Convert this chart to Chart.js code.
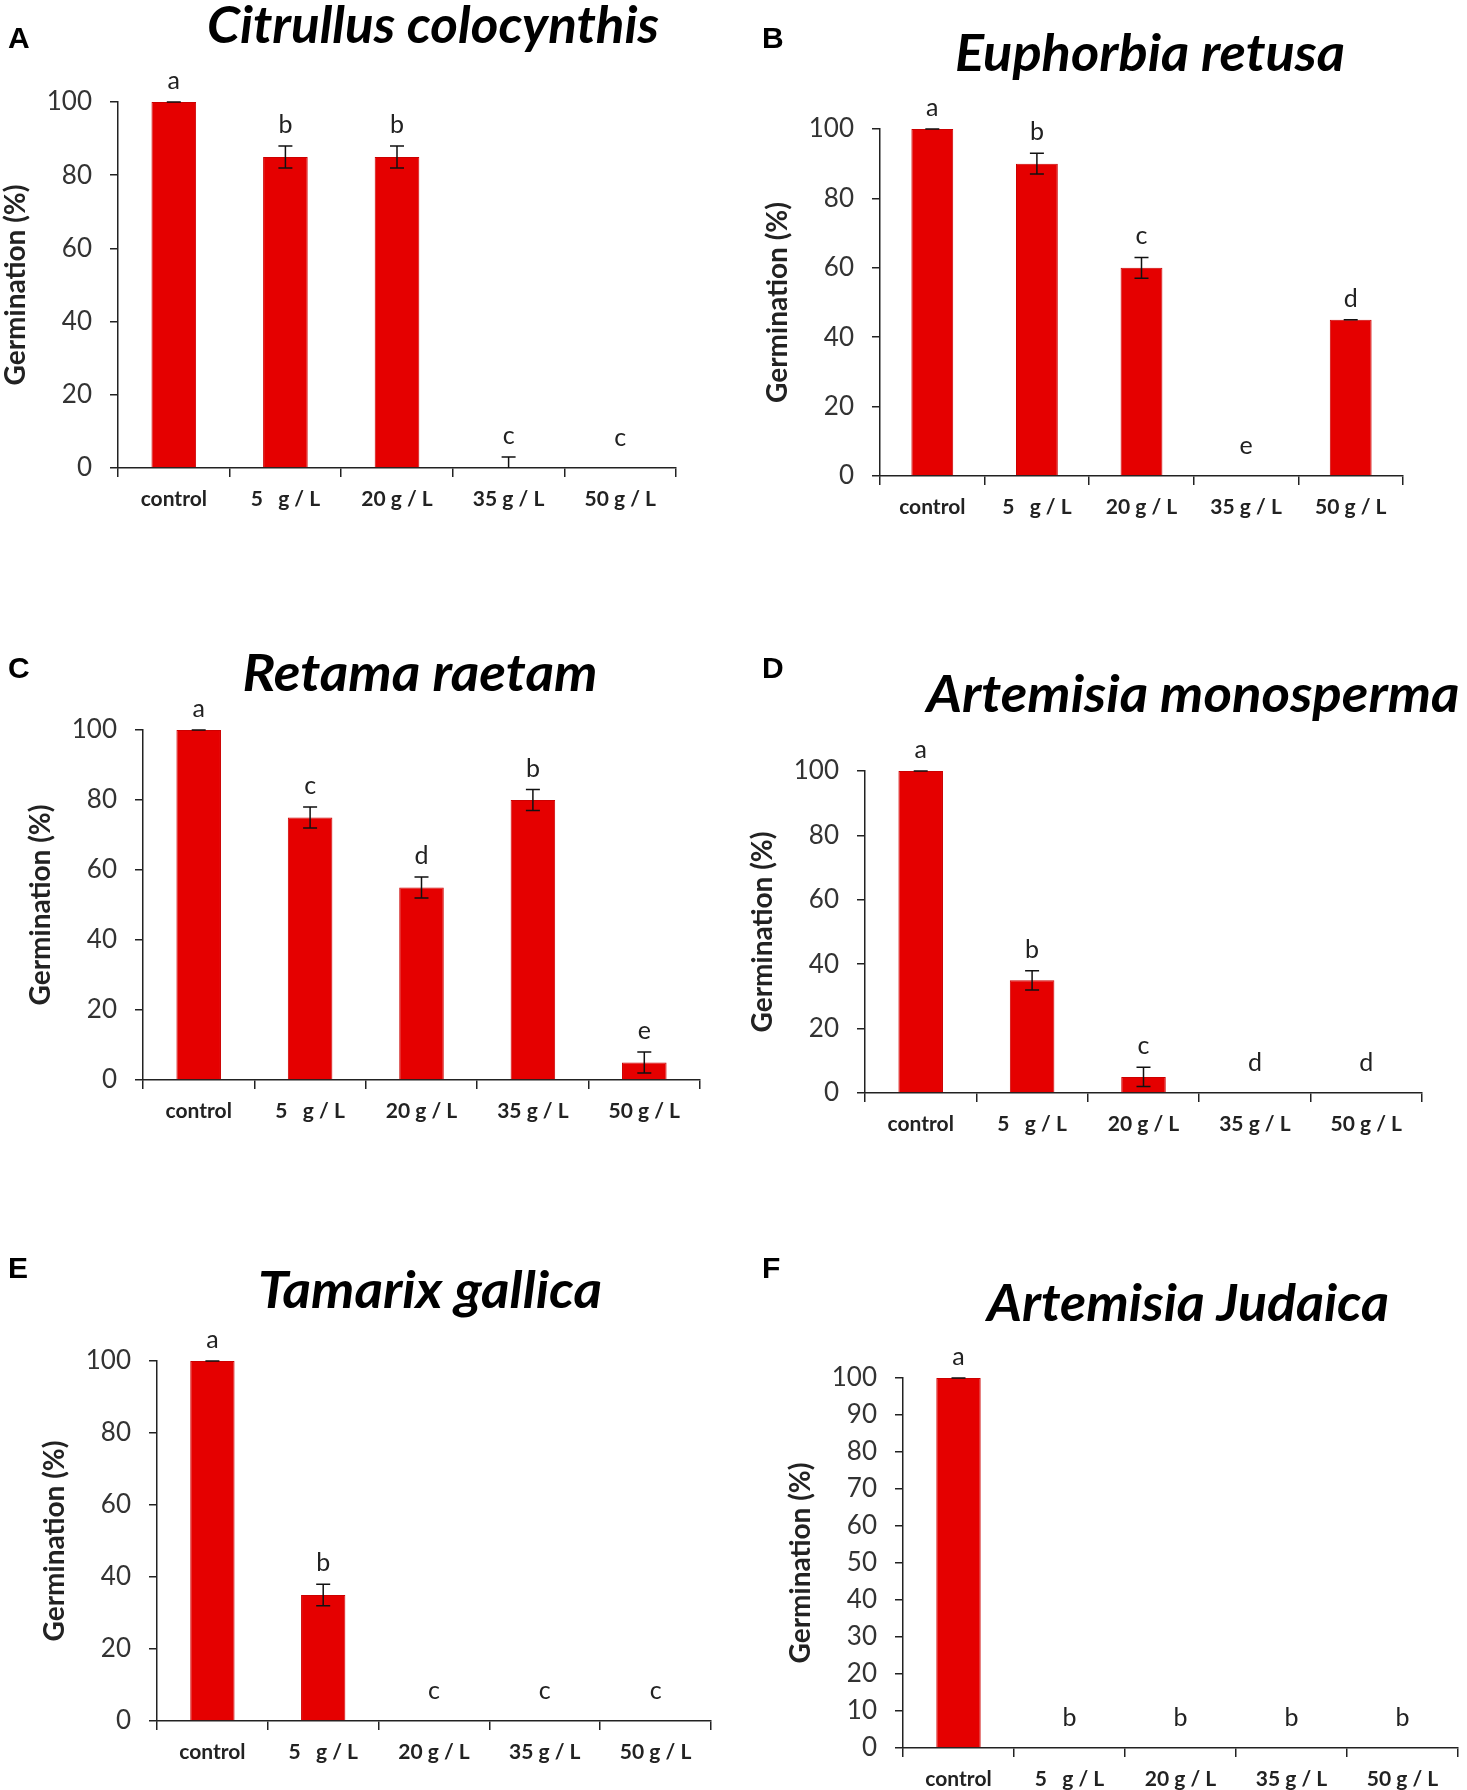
<!DOCTYPE html>
<html>
<head>
<meta charset="utf-8">
<script src="https://cdn.jsdelivr.net/npm/chart.js@4.4.0/dist/chart.umd.min.js"></script>
<style>
  body { margin: 0; background: #fff; width: 1467px; height: 1790px; position: relative; overflow: hidden; }
  canvas { position: absolute; }
</style>
</head>
<body>
<canvas id="A"></canvas>
<canvas id="B"></canvas>
<canvas id="C"></canvas>
<canvas id="D"></canvas>
<canvas id="E"></canvas>
<canvas id="F"></canvas>
<script>
// salt doses on the x axis
const doses = ['control', '5   g / L', '20 g / L', '35 g / L', '50 g / L'];

// germination (%) per species, with error bars and letter groups
const germA = [100, 85, 85, 0, 0];
const errA = [0, 3, 3, 3, 0];
const letA = ['a', 'b', 'b', 'c', 'c'];

const germB = [100, 90, 60, 0, 45];
const errB = [0, 3, 3, 0, 0];
const letB = ['a', 'b', 'c', 'e', 'd'];

const germC = [100, 75, 55, 80, 5];
const errC = [0, 3, 3, 3, 3];
const letC = ['a', 'c', 'd', 'b', 'e'];

const germD = [100, 35, 5, 0, 0];
const errD = [0, 3, 3, 0, 0];
const letD = ['a', 'b', 'c', 'd', 'd'];

const germE = [100, 35, 0, 0, 0];
const errE = [0, 3, 0, 0, 0];
const letE = ['a', 'b', 'c', 'c', 'c'];

const germF = [100, 0, 0, 0, 0];
const errF = [0, 0, 0, 0, 0];
const letF = ['a', 'b', 'b', 'b', 'b'];

// y tick labels
const ticks20 = [0, 20, 40, 60, 80, 100];
const ticks10 = [0, 10, 20, 30, 40, 50, 60, 70, 80, 90, 100];

// page layout: canvas box, plot area, title (center x, baseline, width), panel tag
const panels = [
  { id: 'A', title: 'Citrullus colocynthis', values: germA, errors: errA, letters: letA, ticks: ticks20,
    box: [0, 0, 733, 560], area: [118, 102, 676, 468], head: [433, 43, 452], tag: [8, 48] },
  { id: 'B', title: 'Euphorbia retusa', values: germB, errors: errB, letters: letB, ticks: ticks20,
    box: [733, 0, 1467, 560], area: [880, 129, 1403, 476], head: [1150, 71, 390], tag: [762, 48] },
  { id: 'C', title: 'Retama raetam', values: germC, errors: errC, letters: letC, ticks: ticks20,
    box: [0, 560, 733, 1200], area: [143, 730, 700, 1080], head: [420, 691, 355], tag: [8, 678] },
  { id: 'D', title: 'Artemisia monosperma', values: germD, errors: errD, letters: letD, ticks: ticks20,
    box: [733, 560, 1467, 1200], area: [865, 771, 1422, 1093], head: [1193, 712, 533], tag: [762, 678] },
  { id: 'E', title: 'Tamarix gallica', values: germE, errors: errE, letters: letE, ticks: ticks20,
    box: [0, 1200, 733, 1790], area: [157, 1361, 711, 1721], head: [430, 1308, 344], tag: [8, 1278] },
  { id: 'F', title: 'Artemisia Judaica', values: germF, errors: errF, letters: letF, ticks: ticks10,
    box: [733, 1200, 1467, 1790], area: [903, 1378, 1458, 1748], head: [1188, 1321, 402], tag: [762, 1278] }
];

Chart.defaults.font.family = 'Lato';

function marksPlugin(p) {
  return {
    id: 'marks' + p.id,
    afterDatasetsDraw(chart) {
      const ctx = chart.ctx;
      const y = chart.scales.y;
      const bars = chart.getDatasetMeta(0).data;
      const ox = p.box[0], oy = p.box[1];

      ctx.save();
      // error bars
      ctx.strokeStyle = '#111';
      ctx.lineWidth = 1.5;
      bars.forEach((bar, i) => {
        const v = p.values[i], e = p.errors[i];
        if (v + e <= 0) return;
        const top = y.getPixelForValue(v + e);
        const bot = y.getPixelForValue(Math.max(v - e, 0));
        ctx.beginPath();
        ctx.moveTo(bar.x, top); ctx.lineTo(bar.x, bot);
        ctx.moveTo(bar.x - 7, top); ctx.lineTo(bar.x + 7, top);
        if (v - e > 0) { ctx.moveTo(bar.x - 7, bot); ctx.lineTo(bar.x + 7, bot); }
        ctx.stroke();
      });

      // significance letters
      ctx.fillStyle = '#222';
      ctx.font = '25px Lato';
      ctx.textAlign = 'center';
      ctx.textBaseline = 'middle';
      bars.forEach((bar, i) => {
        const v = p.values[i], e = p.errors[i];
        const yy = v + e > 0 ? y.getPixelForValue(v + e) - 21 : y.getPixelForValue(0) - 30;
        ctx.fillText(p.letters[i], bar.x, yy);
      });

      // species title
      ctx.fillStyle = '#000';
      ctx.font = 'italic bold 52px Lato';
      ctx.textBaseline = 'alphabetic';
      const w = ctx.measureText(p.title).width;
      ctx.save();
      ctx.translate(p.head[0] - ox, p.head[1] - oy);
      ctx.scale(p.head[2] / w, 1);
      ctx.fillText(p.title, 0, 0);
      ctx.restore();

      // panel tag
      ctx.font = 'bold 30px "Liberation Sans"';
      ctx.textAlign = 'left';
      ctx.fillText(p.id, p.tag[0] - ox, p.tag[1] - oy);
      ctx.restore();
    }
  };
}

panels.forEach(p => {
  const [bl, bt, br, bb] = p.box;
  const [L, T, R, B] = p.area;
  const cv = document.getElementById(p.id);
  cv.width = br - bl;
  cv.height = bb - bt;
  cv.style.left = bl + 'px';
  cv.style.top = bt + 'px';

  const titleSize = 28;
  const titlePad = (L - 102 - bl) - titleSize * 1.2 / 2;

  new Chart(cv.getContext('2d'), {
    type: 'bar',
    data: {
      labels: doses,
      datasets: [{
        data: p.values,
        backgroundColor: '#e50000',
        borderColor: '#cc0000',
        borderWidth: 1,
        barPercentage: 0.4,
        categoryPercentage: 1
      }]
    },
    options: {
      responsive: false,
      animation: false,
      devicePixelRatio: 1,
      layout: { padding: { left: 0, top: T - bt, right: br - R, bottom: 0 } },
      plugins: { legend: { display: false }, tooltip: { enabled: false } },
      scales: {
        x: {
          afterFit: s => { s.height = bb - B; },
          grid: { drawOnChartArea: false, drawTicks: true, tickLength: 9, color: '#222', lineWidth: 1.5 },
          border: { display: true, color: '#222', width: 1.5 },
          ticks: { color: '#222', font: { size: 21, weight: 'bold' }, padding: 10, maxRotation: 0, autoSkip: false }
        },
        y: {
          min: 0,
          max: 100,
          afterFit: s => { s.width = L - bl; },
          afterBuildTicks: s => { s.ticks = p.ticks.map(v => ({ value: v })); },
          grid: { drawOnChartArea: false, drawTicks: true, tickLength: 8, color: '#222', lineWidth: 1.5 },
          border: { display: true, color: '#222', width: 1.5 },
          ticks: { color: '#333', font: { size: 26 }, padding: 18 },
          title: {
            display: true,
            text: 'Germination (%)',
            color: '#222',
            font: { size: titleSize, weight: 'bold' },
            padding: { top: titlePad, bottom: 0 }
          }
        }
      }
    },
    plugins: [marksPlugin(p)]
  });
});
</script>
</body>
</html>
